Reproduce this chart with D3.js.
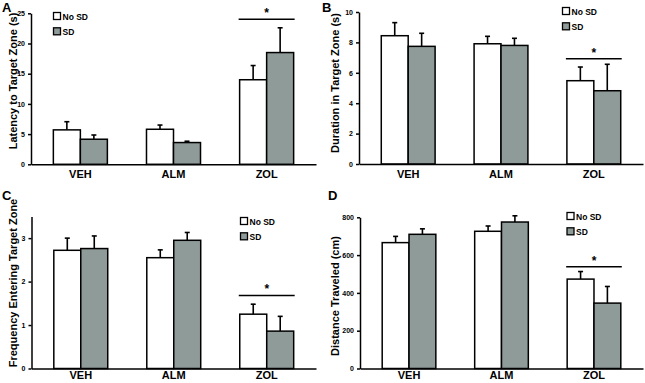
<!DOCTYPE html>
<html>
<head>
<meta charset="utf-8">
<script src="https://cdn.jsdelivr.net/npm/d3@7"></script>
<style>
  body { margin: 0; background: #fff; }
  svg { font-family: Arial, "Liberation Sans", sans-serif; font-weight: bold; }
  .axis path, .axis line { stroke: #000; stroke-width: 1.5; }
  .axis text { fill: #000; font-weight: bold; }
</style>
</head>
<body>
<svg id="chart" width="645" height="383"></svg>
<script>
// Four-panel bar chart: No SD vs SD by treatment group, mean + SEM

const groups = ['VEH', 'ALM', 'ZOL'];
const seriesNames = ['No SD', 'SD'];
const seriesColors = ['#ffffff', '#8e9b99'];

// A - latency
const latencyNoSD = [5.7, 5.8, 14.0];
const latencyNoSDErr = [1.35, 0.7, 2.35];
const latencySD = [4.15, 3.6, 18.5];
const latencySDErr = [0.7, 0.22, 4.1];
const latencyTicks = [0, 5, 10, 15, 20, 25];

// B - duration
const durationNoSD = [8.44, 7.91, 5.48];
const durationNoSDErr = [0.86, 0.49, 0.9];
const durationSD = [7.74, 7.8, 4.82];
const durationSDErr = [0.86, 0.47, 1.74];
const durationTicks = [0, 2, 4, 6, 8, 10];

// C - frequency
const frequencyNoSD = [2.72, 2.55, 1.25];
const frequencyNoSDErr = [0.28, 0.18, 0.23];
const frequencySD = [2.76, 2.95, 0.86];
const frequencySDErr = [0.29, 0.18, 0.34];
const frequencyTicks = [0, 1, 2, 3];

// D - distance
const distanceNoSD = [666, 726, 473];
const distanceNoSDErr = [33, 28, 40];
const distanceSD = [710, 775, 346];
const distanceSDErr = [29, 33, 88];
const distanceTicks = [0, 200, 400, 600, 800];

const panels = [
    {
        letter: 'A', title: 'Latency to Target Zone (s)',
        means: [latencyNoSD, latencySD], errs: [latencyNoSDErr, latencySDErr],
        ticks: latencyTicks, yMax: 25, sig: 24,
        box: { x0: 31, x1: 316, top: 13.3, bottom: 164.3 }, catPad: 6,
        letterAt: [2, 12], titleAt: [17, 81], legendAt: [53.5, 12.5]
    },
    {
        letter: 'B', title: 'Duration in Target Zone (s)',
        means: [durationNoSD, durationSD], errs: [durationNoSDErr, durationSDErr],
        ticks: durationTicks, yMax: 10, sig: 6.93,
        box: { x0: 359, x1: 643, top: 12, bottom: 164 }, catPad: 6,
        letterAt: [322, 12], titleAt: [339, 83], legendAt: [562.5, 7.5]
    },
    {
        letter: 'C', title: 'Frequency Entering Target Zone',
        means: [frequencyNoSD, frequencySD], errs: [frequencyNoSDErr, frequencySDErr],
        ticks: frequencyTicks, yMax: 3.5, sig: 1.68,
        box: { x0: 31.5, x1: 316, top: 216.4, bottom: 368.5 }, catPad: 3,
        letterAt: [2, 200], titleAt: [17, 283], legendAt: [240.5, 217.5]
    },
    {
        letter: 'D', title: 'Distance Traveled (cm)',
        means: [distanceNoSD, distanceSD], errs: [distanceNoSDErr, distanceSDErr],
        ticks: distanceTicks, yMax: 800, sig: 539,
        box: { x0: 360, x1: 643, top: 217.3, bottom: 368.5 }, catPad: 3,
        letterAt: [328, 200], titleAt: [339, 296], legendAt: [567, 212.5]
    }
];

const svg = d3.select('#chart');

panels.forEach(p => {
    const b = p.box;
    const g = svg.append('g');

    const x = d3.scaleBand()
        .domain(groups)
        .range([b.x0, b.x1])
        .paddingInner(0.42)
        .paddingOuter(0.24);

    const xs = d3.scaleBand()
        .domain(d3.range(seriesNames.length))
        .range([0, x.bandwidth()]);

    const y = d3.scaleLinear()
        .domain([0, p.yMax])
        .range([b.bottom, b.top]);

    const rows = [];
    groups.forEach((grp, gi) => {
        seriesNames.forEach((s, si) => {
            rows.push({ grp, si, mean: p.means[si][gi], err: p.errs[si][gi] });
        });
    });

    const cx = d => x(d.grp) + xs(d.si) + xs.bandwidth() / 2;

    // error bars (upper only)
    const eb = g.selectAll('.err').data(rows).enter().append('g').attr('class', 'err');
    eb.append('line')
        .attr('x1', cx).attr('x2', cx)
        .attr('y1', d => y(d.mean))
        .attr('y2', d => y(d.mean + d.err))
        .attr('stroke', '#000').attr('stroke-width', 1.6);
    eb.append('line')
        .attr('x1', d => cx(d) - 2.5)
        .attr('x2', d => cx(d) + 2.5)
        .attr('y1', d => y(d.mean + d.err))
        .attr('y2', d => y(d.mean + d.err))
        .attr('stroke', '#000').attr('stroke-width', 1.6);

    // bars
    g.selectAll('.bar').data(rows).enter().append('rect')
        .attr('class', 'bar')
        .attr('x', d => x(d.grp) + xs(d.si))
        .attr('y', d => y(d.mean))
        .attr('width', xs.bandwidth())
        .attr('height', d => y(0) - y(d.mean))
        .attr('fill', d => seriesColors[d.si])
        .attr('stroke', '#000')
        .attr('stroke-width', 1.5);

    // y axis
    g.append('g')
        .attr('class', 'axis')
        .attr('transform', `translate(${b.x0},0)`)
        .call(d3.axisLeft(y).tickValues(p.ticks).tickFormat(d3.format('d'))
            .tickSize(3).tickSizeOuter(0).tickPadding(3))
        .selectAll('text').style('font-size', '7px');

    // x axis
    g.append('g')
        .attr('class', 'axis')
        .attr('transform', `translate(0,${b.bottom})`)
        .call(d3.axisBottom(x).tickSize(0).tickSizeOuter(0).tickPadding(p.catPad))
        .selectAll('text').style('font-size', '11px');

    // significance bar over ZOL
    const sx0 = x('ZOL') - 1, sx1 = x('ZOL') + x.bandwidth() + 1;
    g.append('line')
        .attr('x1', sx0).attr('x2', sx1)
        .attr('y1', y(p.sig)).attr('y2', y(p.sig))
        .attr('stroke', '#000').attr('stroke-width', 1.5);
    g.append('text')
        .attr('x', (sx0 + sx1) / 2)
        .attr('y', y(p.sig) - 2)
        .attr('text-anchor', 'middle')
        .style('font-size', '12px')
        .text('*');

    // y title
    g.append('text')
        .attr('transform', `translate(${p.titleAt[0]},${p.titleAt[1]}) rotate(-90)`)
        .attr('text-anchor', 'middle')
        .style('font-size', '11px')
        .text(p.title);

    // panel letter
    g.append('text')
        .attr('x', p.letterAt[0]).attr('y', p.letterAt[1])
        .style('font-size', '13px')
        .text(p.letter);

    // legend
    const leg = g.append('g')
        .attr('transform', `translate(${p.legendAt[0]},${p.legendAt[1]})`);
    seriesNames.forEach((s, si) => {
        leg.append('rect')
            .attr('x', 0).attr('y', si * 15.3)
            .attr('width', 7).attr('height', 7)
            .attr('fill', seriesColors[si])
            .attr('stroke', '#000').attr('stroke-width', 1.3);
        leg.append('text')
            .attr('x', 9).attr('y', si * 15.3 + 7)
            .style('font-size', '8.5px')
            .text(s);
    });
});
</script>
</body>
</html>
